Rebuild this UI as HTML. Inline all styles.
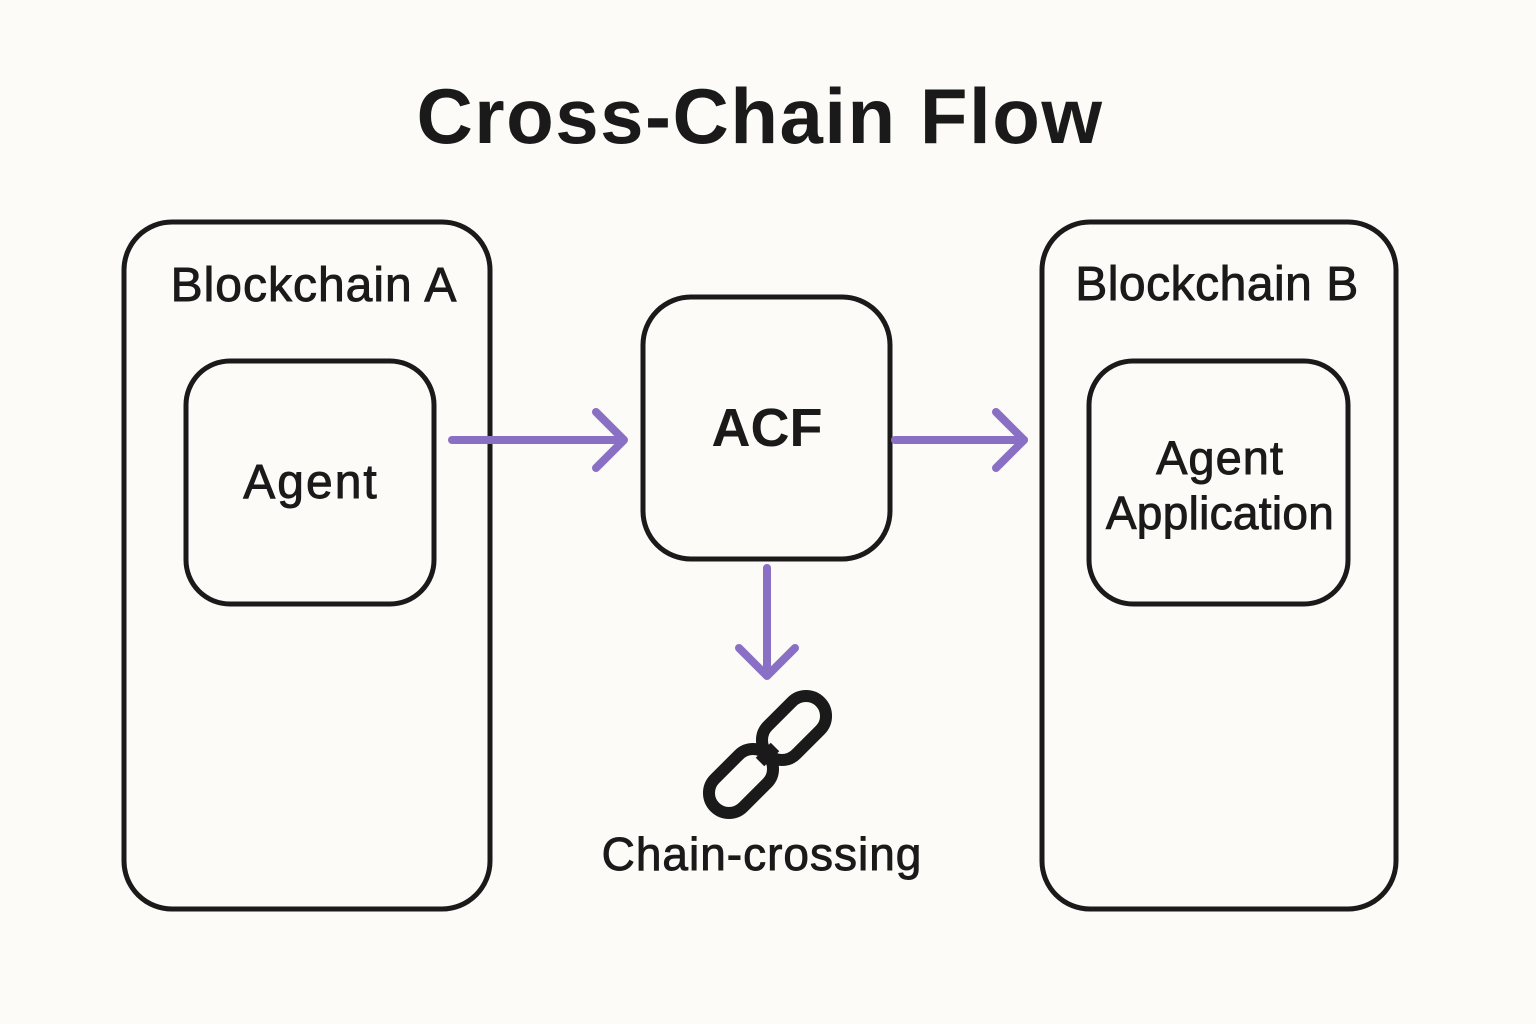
<!DOCTYPE html>
<html><head><meta charset="utf-8"><style>
html,body{margin:0;padding:0;background:#fcfbf8;}
svg{display:block}
text{font-family:"Liberation Sans","DejaVu Sans",sans-serif;fill:#1a1a1a}
.m{stroke:#1a1a1a;stroke-width:0.9}
</style></head><body>
<svg width="1536" height="1024" viewBox="0 0 1536 1024">
<rect width="1536" height="1024" fill="#fcfbf8"/>
<text x="760" y="143" text-anchor="middle" font-size="78" font-weight="bold" letter-spacing="1.5">Cross-Chain Flow</text>
<g fill="none" stroke="#1a1a1a" stroke-width="5">
<rect x="124" y="222" width="366" height="687" rx="48"/>
<rect x="1042" y="222" width="354" height="687" rx="48"/>
<rect x="186" y="361" width="248" height="243" rx="44"/>
<rect x="643" y="297" width="247" height="262" rx="48"/>
<rect x="1089" y="361" width="259" height="243" rx="44"/>
</g>
<text class="m" x="314" y="301" text-anchor="middle" font-size="48" letter-spacing="1">Blockchain A</text>
<text class="m" x="1217" y="300" text-anchor="middle" font-size="48" letter-spacing="0.5">Blockchain B</text>
<text class="m" x="311" y="498" text-anchor="middle" font-size="48" letter-spacing="2">Agent</text>
<text x="767" y="446" text-anchor="middle" font-size="54" font-weight="bold">ACF</text>
<text class="m" x="1220" y="474" text-anchor="middle" font-size="47" letter-spacing="1">Agent</text>
<text class="m" x="1220" y="529" text-anchor="middle" font-size="46" letter-spacing="0.3">Application</text>
<text class="m" x="762" y="870" text-anchor="middle" font-size="46" letter-spacing="1">Chain-crossing</text>
<g fill="none" stroke="#8a70c4" stroke-width="8" stroke-linecap="round" stroke-linejoin="round">
<line x1="452" y1="440" x2="622" y2="440"/>
<polyline points="596,412 624,440 596,468"/>
<line x1="895" y1="440" x2="1024" y2="440"/>
<polyline points="996,412 1024,440 996,468"/>
<line x1="767" y1="568" x2="767" y2="675"/>
<polyline points="739,648 767,676 795,648"/>
</g>
<g fill="none" stroke="#1a1a1a" stroke-width="12">
<rect x="-37" y="-20" width="74" height="40" rx="20" transform="translate(794,728) rotate(-45)"/>
<rect x="-37" y="-20" width="74" height="40" rx="20" transform="translate(741,781) rotate(-45)"/>
<line x1="760" y1="762" x2="775" y2="747"/>
</g>
</svg>
</body></html>
